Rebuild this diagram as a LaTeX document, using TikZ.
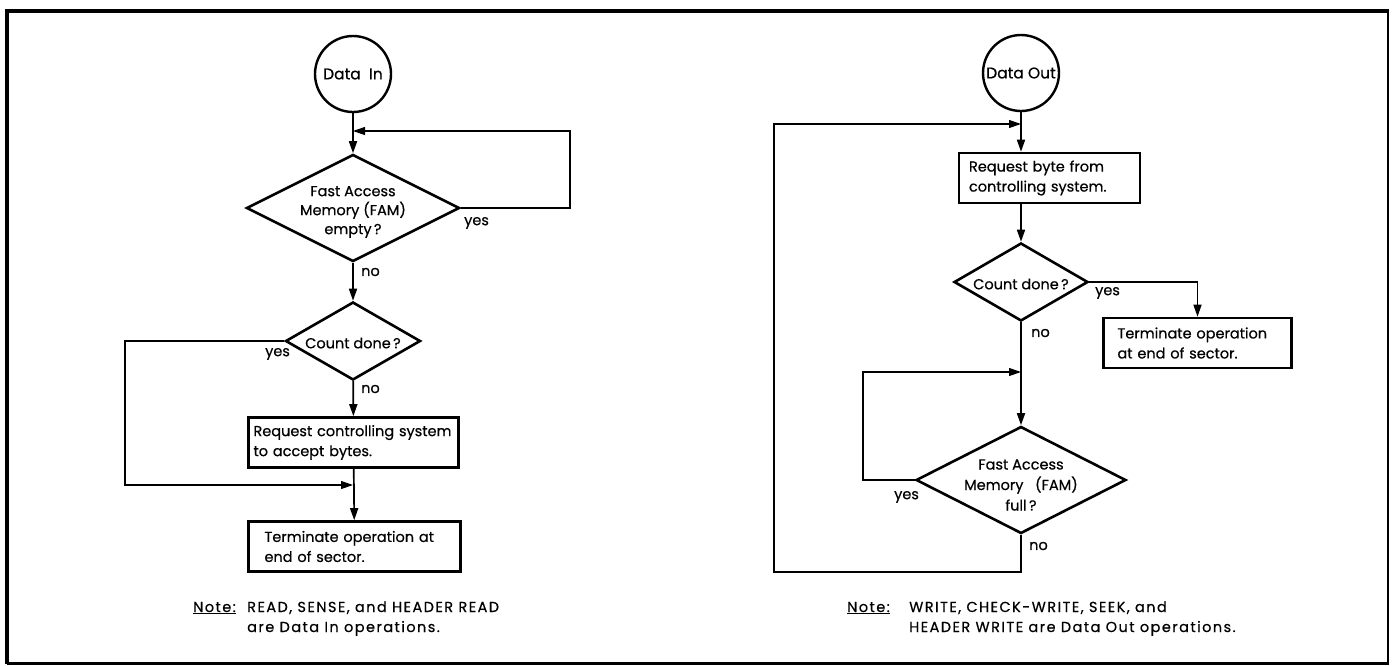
\documentclass[tikz,border=0pt]{standalone}
\usepackage{fontspec}
\setmainfont{Poppins}[FakeBold=0.5]
\usetikzlibrary{shapes.geometric,arrows.meta}
\begin{document}
\begin{tikzpicture}[x=1pt,y=-1pt,
  every node/.style={font=\fontsize{14.5}{20}\selectfont},
  startc/.style={circle,draw,line width=2.4pt,minimum size=76pt,inner sep=0pt,font=\fontsize{15.5}{20}\selectfont},
  dia/.style={diamond,draw,line width=2.6pt,inner sep=0pt},
  box/.style={rectangle,draw,line width=2.6pt,align=left,inner ysep=0pt,minimum height=50pt,
    execute at begin node={\hyphenpenalty=10000}},
  flow/.style={line width=1.7pt,-{Triangle[length=12pt,width=8pt]}},
  loopl/.style={line width=1.1pt,-{Triangle[length=12pt,width=8pt]}},
  lbl/.style={inner sep=0pt},
  notet/.style={inner sep=0pt,anchor=base west,font=\fontsize{14.5}{20}\selectfont\addfontfeature{LetterSpace=10}},
]
\useasboundingbox (0,0) rectangle (1392,665);
% frame
\draw[line width=2.5pt] (1388,11) -- (1388,663.5) -- (7,663.5);
\draw[line width=4pt] (7,663.5) -- (7,11) -- (1389,11);

% ---------- left: Data In ----------
\node[startc] (inA) at (353,74) {Data\ \ In};
\node[dia, minimum width=213pt, minimum height=107pt] (d1) at (353,208) {};
\node[align=center, font=\fontsize{14.5}{19}\selectfont] (t1) at (353,212) {Fast Access\\Memory (FAM)\\empty\,?};
\node[dia, minimum width=135pt, minimum height=78pt] (d2) at (353,341) {};
\node (t2) at (353,343) {Count done\,?};
\node[box, text width=200pt, inner xsep=5pt] (b1) at (353.5,442.5) {Request controlling system\\to accept bytes.};
\node[box, text width=180pt, inner xsep=16pt] (b2) at (354.5,546.5) {Terminate operation at\\end of sector.};

\coordinate (j1) at (353,131);
\coordinate (j2) at (353,485);
\coordinate (c1) at (570,208);
\coordinate (c2) at (125,341);

\draw[flow] (inA) -- (d1);
\draw[loopl] (d1.east) -- (c1) |- (j1);
\draw[flow] (d1) -- (d2);
\draw[flow] (d2) -- (b1);
\draw[loopl] (d2.west) -- (c2) |- (j2);
\draw[flow] (b1) -- (b2);

\node[lbl, anchor=west] (y1) at (464,223) {yes};
\node[lbl, anchor=west] (n1) at (361,272) {no};
\node[lbl, anchor=west] (y2) at (265,354) {yes};
\node[lbl, anchor=west] (n2) at (361,389) {no};

\node[notet] (note1) at (193,612) {\underline{Note:}};
\node[notet] (note1a) at (247,612) {READ, SENSE, and HEADER READ};
\node[notet] (note1b) at (247,632) {are Data In operations.};

% ---------- right: Data Out ----------
\node[startc] (outA) at (1021,73) {Data Out};
\node[box, text width=161pt, inner xsep=10pt] (rb1) at (1049.5,178) {Request byte from\\controlling system.};
\node[dia, minimum width=134pt, minimum height=78pt] (d3) at (1021,282) {};
\node (t3) at (1021,284) {Count done\,?};
\node[box, text width=160pt, inner xsep=14pt] (rb2) at (1197.5,343) {Terminate operation\\at end of sector.};
\node[dia, minimum width=210pt, minimum height=107pt] (d4) at (1021,480) {};
\node[align=center, font=\fontsize{14.5}{20.5}\selectfont] (t4) at (1021,485) {Fast Access\\Memory\ \ \ (FAM)\\full\,?};

\coordinate (j3) at (1021,124);
\coordinate (j4) at (1021,372);
\coordinate (c3) at (863,480);
\coordinate (c4) at (774,572);

\draw[flow] (outA.south) -- (outA.south |- rb1.north);
\draw[loopl] (d4.south) |- (c4) |- (j3);
\draw[flow] (rb1.south -| d3.north) -- (d3.north);
\draw[line width=1.4pt,-{Triangle[length=12pt,width=8pt]}] (d3.east) -| (rb2.north);
\draw[flow] (d3) -- (d4);
\draw[loopl] (d4.west) -- (c3) |- (j4);

\node[lbl, anchor=west] (y3) at (1095,293) {yes};
\node[lbl, anchor=west] (n3) at (1031,333) {no};
\node[lbl, anchor=west] (y4) at (894,497) {yes};
\node[lbl, anchor=west] (n4) at (1029,546) {no};

\node[notet] (note2) at (847,612) {\underline{Note:}};
\node[notet] (note2a) at (909,612) {WRITE, CHECK-WRITE, SEEK, and};
\node[notet] (note2b) at (909,632) {HEADER WRITE are Data Out operations.};
\end{tikzpicture}
\end{document}
